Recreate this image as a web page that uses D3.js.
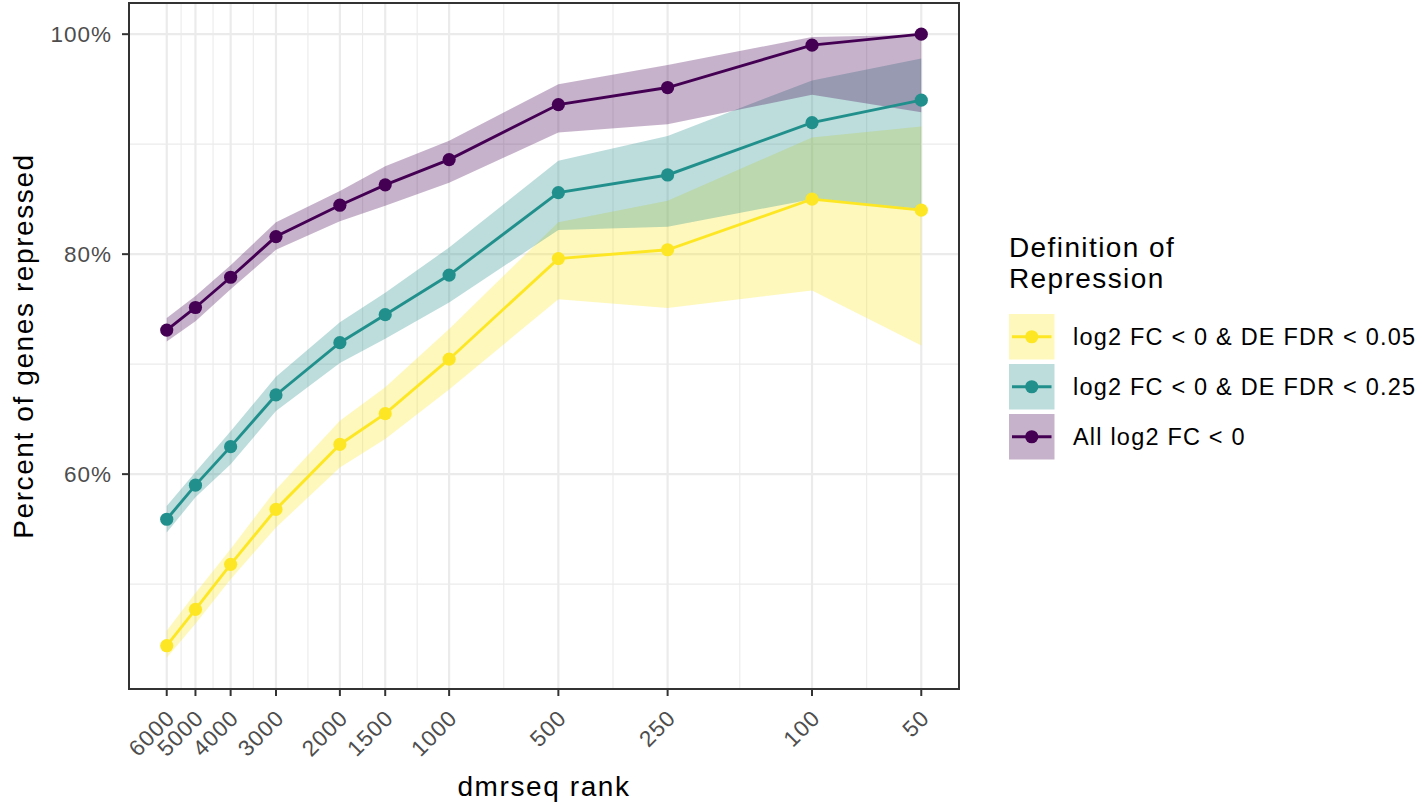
<!DOCTYPE html>
<html>
<head>
<meta charset="utf-8">
<script src="https://cdn.jsdelivr.net/npm/d3@7"></script>
<style>
  body { margin: 0; background: #ffffff; }
  text { font-family: "Liberation Sans", Arial, Helvetica, sans-serif; }
</style>
</head>
<body>
<svg id="chart" width="1422" height="805"></svg>
<script>
// dmrseq rank cut-offs (x axis, log scale, reversed)
const ranks = [6000, 5000, 4000, 3000, 2000, 1500, 1000, 500, 250, 100, 50];

// Series: percent of genes repressed, with lower / upper band
const seriesNames = [
  "log2 FC < 0 & DE FDR < 0.05",
  "log2 FC < 0 & DE FDR < 0.25",
  "All log2 FC < 0"
];
const seriesColors = ["#FDE725", "#21908C", "#440154"];

const fdr05Pct = [44.4, 47.7, 51.8, 56.8, 62.7, 65.5, 70.45, 79.6, 80.4, 85.0, 84.0];
const fdr05Lo  = [43.3, 46.4, 50.45, 55.15, 60.6, 63.2, 67.7, 75.9, 75.1, 76.7, 71.7];
const fdr05Hi  = [45.75, 49.2, 53.2, 58.6, 64.85, 67.9, 73.2, 82.9, 84.85, 90.6, 91.6];

const fdr25Pct = [55.9, 59.0, 62.5, 67.2, 71.95, 74.5, 78.1, 85.6, 87.2, 91.96, 94.0];
const fdr25Lo  = [54.7, 57.9, 60.9, 65.75, 70.1, 72.3, 75.6, 82.2, 82.5, 85.0, 84.1];
const fdr25Hi  = [57.1, 60.2, 63.9, 68.85, 73.8, 76.5, 80.6, 88.5, 90.75, 95.8, 97.8];

const allPct = [73.1, 75.15, 77.9, 81.6, 84.45, 86.3, 88.6, 93.6, 95.15, 99.0, 100.0];
const allLo  = [72.05, 73.9, 76.8, 80.4, 83.0, 84.4, 86.5, 91.05, 91.8, 94.5, 92.9];
const allHi  = [74.2, 76.2, 79.0, 82.9, 85.75, 88.0, 90.3, 95.45, 97.2, 99.75, 99.95];

// Axis ticks
const yTicks = [60, 80, 100];
const yMinorTicks = [50, 70, 90];
const xTickLabels = ranks.map(String);

const series = [
  { name: seriesNames[0], color: seriesColors[0], pct: fdr05Pct, lo: fdr05Lo, hi: fdr05Hi },
  { name: seriesNames[1], color: seriesColors[1], pct: fdr25Pct, lo: fdr25Lo, hi: fdr25Hi },
  { name: seriesNames[2], color: seriesColors[2], pct: allPct,   lo: allLo,   hi: allHi }
].map(s => ({ ...s, rows: ranks.map((r, i) => ({ rank: r, pct: s.pct[i], lo: s.lo[i], hi: s.hi[i] })) }));

// Panel geometry
const panel = { left: 129, right: 959, top: 3, bottom: 689 };

const svg = d3.select("#chart");
svg.append("rect").attr("width", 1422).attr("height", 805).attr("fill", "#ffffff");

// Scales with 5% expansion on each side
const lmin = Math.log10(d3.min(ranks)), lmax = Math.log10(d3.max(ranks));
const lpad = (lmax - lmin) * 0.05;
const x = d3.scaleLog()
  .domain([Math.pow(10, lmax + lpad), Math.pow(10, lmin - lpad)])
  .range([panel.left, panel.right]);

const allVals = series.flatMap(s => [...s.pct, ...s.lo, ...s.hi]);
const vmin = d3.min(allVals), vmax = d3.max(allVals);
const vpad = (vmax - vmin) * 0.05;
const y = d3.scaleLinear()
  .domain([vmin - vpad, vmax + vpad])
  .range([panel.bottom, panel.top]);

// Grid
const grid = svg.append("g");
const xMinor = d3.range(ranks.length - 1).map(i => Math.sqrt(ranks[i] * ranks[i + 1]));
grid.selectAll("line.yminor").data(yMinorTicks).join("line")
  .attr("x1", panel.left).attr("x2", panel.right)
  .attr("y1", d => y(d)).attr("y2", d => y(d))
  .attr("stroke", "#EBEBEB").attr("stroke-width", 1.1);
grid.selectAll("line.xminor").data(xMinor).join("line")
  .attr("y1", panel.top).attr("y2", panel.bottom)
  .attr("x1", d => x(d)).attr("x2", d => x(d))
  .attr("stroke", "#EBEBEB").attr("stroke-width", 1.1);
grid.selectAll("line.ymajor").data(yTicks).join("line")
  .attr("x1", panel.left).attr("x2", panel.right)
  .attr("y1", d => y(d)).attr("y2", d => y(d))
  .attr("stroke", "#EBEBEB").attr("stroke-width", 2.2);
grid.selectAll("line.xmajor").data(ranks).join("line")
  .attr("y1", panel.top).attr("y2", panel.bottom)
  .attr("x1", d => x(d)).attr("x2", d => x(d))
  .attr("stroke", "#EBEBEB").attr("stroke-width", 2.2);

// Ribbons
const area = d3.area().x(d => x(d.rank)).y0(d => y(d.lo)).y1(d => y(d.hi));
svg.append("g").selectAll("path").data(series).join("path")
  .attr("d", s => area(s.rows))
  .attr("fill", s => s.color).attr("fill-opacity", 0.3);

// Lines
const line = d3.line().x(d => x(d.rank)).y(d => y(d.pct));
svg.append("g").selectAll("path").data(series).join("path")
  .attr("d", s => line(s.rows))
  .attr("fill", "none").attr("stroke", s => s.color).attr("stroke-width", 2.9);

// Points
svg.append("g").selectAll("g").data(series).join("g")
  .attr("fill", s => s.color)
  .selectAll("circle").data(s => s.rows).join("circle")
  .attr("cx", d => x(d.rank)).attr("cy", d => y(d.pct)).attr("r", 6.6);

// Panel border
svg.append("rect")
  .attr("x", panel.left).attr("y", panel.top)
  .attr("width", panel.right - panel.left).attr("height", panel.bottom - panel.top)
  .attr("fill", "none").attr("stroke", "#333333").attr("stroke-width", 2);

// Y axis ticks and labels
const yAxis = svg.append("g");
yAxis.selectAll("line").data(yTicks).join("line")
  .attr("x1", panel.left - 7).attr("x2", panel.left)
  .attr("y1", d => y(d)).attr("y2", d => y(d))
  .attr("stroke", "#333333").attr("stroke-width", 2);
yAxis.selectAll("text").data(yTicks).join("text")
  .attr("x", 112).attr("y", d => y(d)).attr("dy", "0.36em")
  .attr("text-anchor", "end").attr("font-size", 22.5).attr("letter-spacing", 1.0)
  .attr("fill", "#4D4D4D")
  .text(d => d + "%");

// X axis ticks and rotated labels
const xAxis = svg.append("g");
xAxis.selectAll("line").data(ranks).join("line")
  .attr("x1", d => x(d)).attr("x2", d => x(d))
  .attr("y1", panel.bottom).attr("y2", panel.bottom + 7)
  .attr("stroke", "#333333").attr("stroke-width", 2);
xAxis.selectAll("text").data(ranks).join("text")
  .attr("transform", d => `translate(${x(d) + 9.5},719.5) rotate(-45)`)
  .attr("text-anchor", "end").attr("font-size", 22.5).attr("letter-spacing", 1.0)
  .attr("fill", "#4D4D4D")
  .text((d, i) => xTickLabels[i]);

// Axis titles
svg.append("text")
  .attr("x", (panel.left + panel.right) / 2).attr("y", 795.5)
  .attr("text-anchor", "middle").attr("font-size", 28).attr("letter-spacing", 1.6)
  .attr("fill", "#000000")
  .text("dmrseq rank");
svg.append("text")
  .attr("transform", `translate(33,${(panel.top + panel.bottom) / 2}) rotate(-90)`)
  .attr("text-anchor", "middle").attr("font-size", 28).attr("letter-spacing", 1.6)
  .attr("fill", "#000000")
  .text("Percent of genes repressed");

// Legend
const legend = svg.append("g").attr("transform", "translate(1009,0)");
legend.append("text").attr("x", 0).attr("y", 256.7)
  .attr("font-size", 28).attr("letter-spacing", 1.4).text("Definition of");
legend.append("text").attr("x", 0).attr("y", 288.3)
  .attr("font-size", 28).attr("letter-spacing", 1.4).text("Repression");

const keyTop = 314, keyStep = 50, keySize = 45.5;
const keys = legend.selectAll("g.key").data(series).join("g")
  .attr("transform", (s, i) => `translate(0,${keyTop + i * keyStep})`);
keys.append("rect").attr("width", keySize).attr("height", keySize)
  .attr("fill", s => s.color).attr("fill-opacity", 0.3);
keys.append("line").attr("x1", 3).attr("x2", keySize - 3)
  .attr("y1", keySize / 2).attr("y2", keySize / 2)
  .attr("stroke", s => s.color).attr("stroke-width", 2.9);
keys.append("circle").attr("cx", keySize / 2).attr("cy", keySize / 2).attr("r", 6.6)
  .attr("fill", s => s.color);
keys.append("text").attr("x", 64).attr("y", keySize / 2).attr("dy", "0.36em")
  .attr("font-size", 23.5).attr("letter-spacing", 1.2).attr("fill", "#000000")
  .text(s => s.name);
</script>
</body>
</html>
